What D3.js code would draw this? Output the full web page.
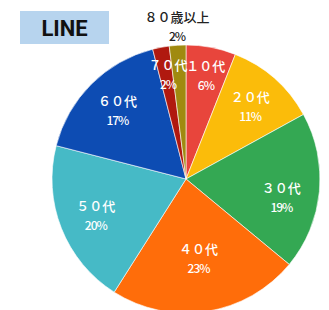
<!DOCTYPE html>
<html>
<head>
<meta charset="utf-8">
<script src="https://cdn.jsdelivr.net/npm/d3@7"></script>
<style>
  body { margin: 0; background: #fff; }
  svg { display: block; }
</style>
</head>
<body>
<script>
// data
const ages = ["１０代", "２０代", "３０代", "４０代", "５０代", "６０代", "７０代", "８０歳以上"]
const shares = [6, 11, 19, 23, 20, 17, 2, 2]
const colors = ["#e8453c", "#fbbc0a", "#34a853", "#ff6d0a", "#46bac6", "#0d4cb3", "#b0190f", "#a08a10"]
const title = "LINE"

const W = 329, H = 310
const cx = 186, cy = 179, R = 134

let svg = d3.select('body').append('svg')
    .attr('width', W)
    .attr('height', H)

// title box
svg.append('rect')
    .attr('x', 20).attr('y', 11)
    .attr('width', 89).attr('height', 33)
    .attr('fill', '#b7d4ee')
svg.append('text')
    .attr('x', 64.5).attr('y', 36)
    .attr('text-anchor', 'middle')
    .style('font-family', 'Roboto, "Liberation Sans", sans-serif')
    .style('font-weight', 'bold')
    .style('font-size', '22px')
    .attr('fill', '#111')
    .text(title)

let data = ages.map((a, i) => ({ age: a, v: shares[i], color: colors[i] }))

let pie = d3.pie().value(d => d.v).sort(null)
let arcs = pie(data)

let arc = d3.arc().innerRadius(0).outerRadius(R)

let g = svg.append('g').attr('transform', `translate(${cx},${cy})`)

g.selectAll('path')
    .data(arcs)
    .enter().append('path')
    .attr('d', arc)
    .attr('fill', d => d.data.color)
    .attr('stroke', '#fff')
    .attr('stroke-width', 0.6)

// label distance from center, with a couple of hand nudges like the original
let labelR = { "４０代": 80, "７０代": 107, "１０代": 106 }
let labelAngle = { "３０代": 0.09, "７０代": 0.02 }

let labels = g.selectAll('g.lab')
    .data(arcs)
    .enter().append('g')
    .attr('class', 'lab')
    .attr('transform', d => {
        let a = (d.startAngle + d.endAngle) / 2 + (labelAngle[d.data.age] || 0)
        let r = labelR[d.data.age] || 97
        if (d.data.age === "８０歳以上") return `translate(-9,-153)`
        return `translate(${r * Math.sin(a)},${-r * Math.cos(a)})`
    })

labels.append('text')
    .attr('text-anchor', 'middle')
    .attr('y', -4)
    .style('font-family', '"Noto Sans CJK JP", sans-serif')
    .style('font-size', '13px')
    .style('font-weight', '500')
    .attr('fill', d => d.data.age === "８０歳以上" ? '#222' : '#fff')
    .text(d => d.data.age)

labels.append('text')
    .attr('text-anchor', 'middle')
    .attr('y', 15)
    .style('font-family', '"Noto Sans CJK JP", sans-serif')
    .style('font-size', '12px')
    .style('font-weight', '500')
    .style('letter-spacing', '-1px')
    .attr('fill', d => d.data.age === "８０歳以上" ? '#222' : '#fff')
    .text(d => d.data.v + '%')
</script>
</body>
</html>
